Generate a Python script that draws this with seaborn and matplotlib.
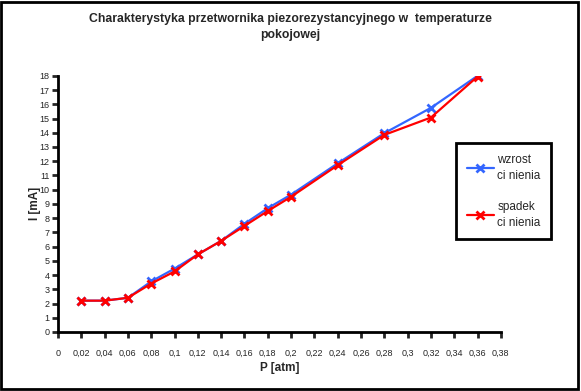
import numpy as np
import seaborn as sns
import matplotlib.pyplot as plt
from matplotlib.patches import Rectangle

# pressure [atm] and current [mA]
p_atm = [0.02, 0.04, 0.06, 0.08, 0.10, 0.12, 0.14, 0.16, 0.18, 0.20, 0.24, 0.28, 0.32, 0.36]
i_wzrost = [2.2, 2.2, 2.4, 3.55, 4.45, 5.45, 6.4, 7.6, 8.7, 9.65, 11.85, 13.97, 15.75, 18.0]
i_spadek = [2.2, 2.2, 2.4, 3.4, 4.25, 5.45, 6.4, 7.45, 8.5, 9.5, 11.72, 13.85, 15.07, 17.95]

x_ticks = np.arange(0, 0.381, 0.02)
x_labels = ["0" if t == 0 else f"{t:.2f}".rstrip("0").replace(".", ",") for t in x_ticks]

sns.set_style("white")
plt.rcParams['font.family'] = ['Liberation Sans', 'DejaVu Sans']

fig = plt.figure(figsize=(5.81, 3.91), dpi=100)
ax = fig.add_axes([0.0998, 0.151, 0.7622, 0.655])

# blue first, red drawn on top
for vals, col, lab in [(i_wzrost, "#3366ff", "wzrost\nci nienia"),
                       (i_spadek, "#ff0000", "spadek\nci nienia")]:
    sns.lineplot(x=p_atm, y=vals, color=col, marker="x", markersize=6,
                 markeredgewidth=2, markeredgecolor=col, linewidth=1.6,
                 label=lab, ax=ax)

ax.set_xlim(0, 0.38)
ax.set_ylim(0, 18)
ax.set_xticks(x_ticks)
ax.set_xticklabels(x_labels)
ax.set_yticks(range(0, 19))
ax.tick_params(axis="both", labelsize=6.5, length=4, width=2, direction="out",
               bottom=True, left=True, pad=8)
ax.tick_params(axis="y", pad=2)
sns.despine(ax=ax)
for side in ["left", "bottom"]:
    ax.spines[side].set_linewidth(2)
    ax.spines[side].set_color("black")

ax.set_xlabel("P [atm]", fontsize=8.5, fontweight="bold", labelpad=3)
ax.set_ylabel("I [mA]", fontsize=8.5, fontweight="bold", labelpad=-1)

fig.suptitle("Charakterystyka przetwornika piezorezystancyjnego w  temperaturze\npokojowej",
             fontsize=8.8, fontweight="bold", y=0.968, linespacing=1.5)

leg = ax.legend(loc="upper left", bbox_to_anchor=(0.785, 0.634),
                bbox_transform=fig.transFigure, frameon=True,
                fontsize=8.5, handlelength=2.3, handletextpad=0.3, labelspacing=1.6,
                borderpad=0.9, borderaxespad=0, fancybox=False, edgecolor="black",
                framealpha=1)
for t in leg.get_texts():
    t.set_linespacing(1.45)
leg.get_frame().set_linewidth(2)

fig.patches.append(Rectangle((0.002, 0.004), 0.993, 0.992, transform=fig.transFigure,
                             fill=False, edgecolor="black", linewidth=2))

fig.savefig("out.png", dpi=100)
